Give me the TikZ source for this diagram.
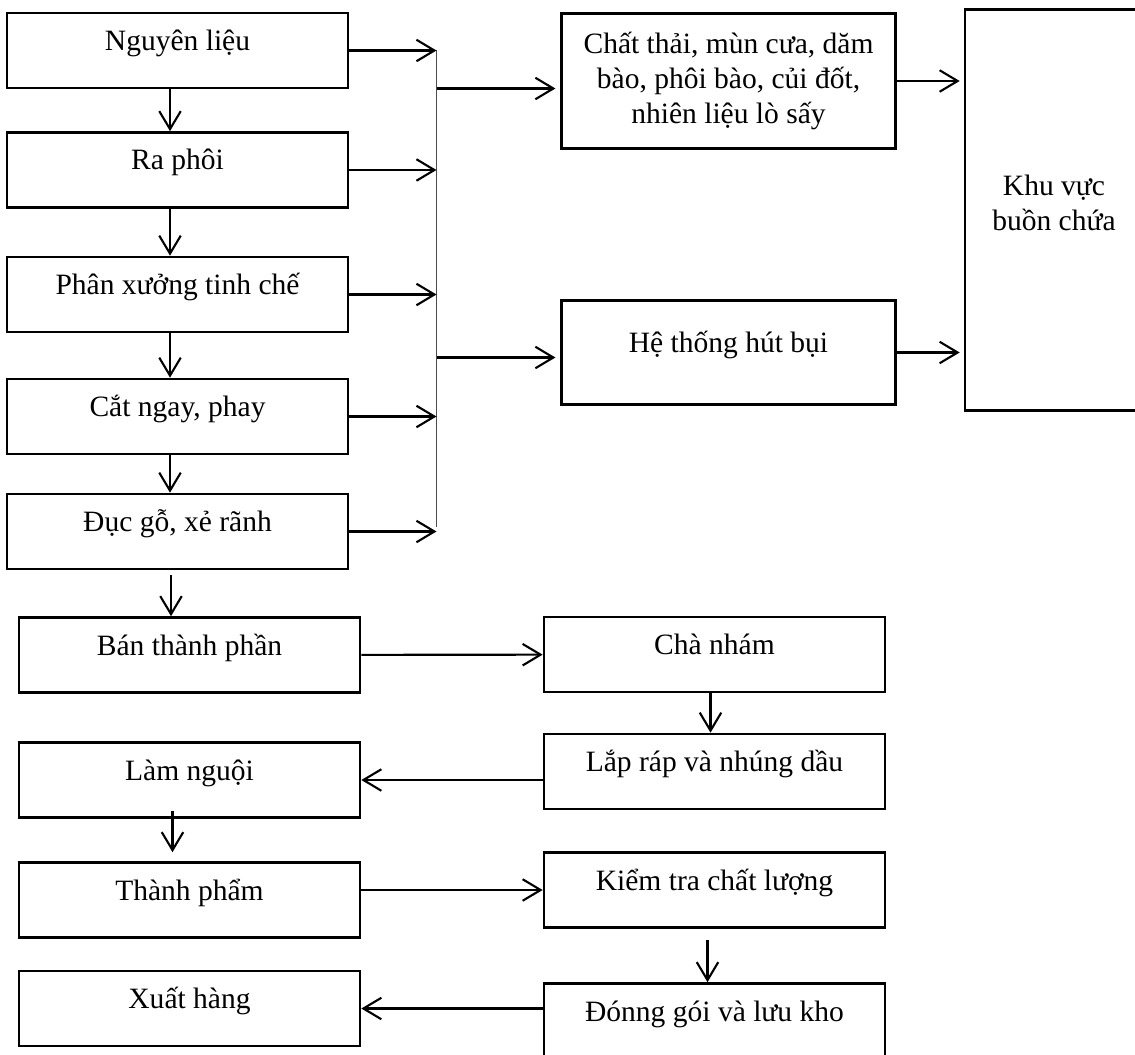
\documentclass[tikz,border=0pt]{standalone}
\usepackage{fontspec}
\setmainfont{Liberation Serif}
\usetikzlibrary{arrows.meta}
\tikzset{
  box/.style={draw, line width=1.5pt, align=center, inner sep=2pt,
              minimum width=6.82cm, minimum height=1.5cm},
  stepbox/.style={box, text height=0.8em, text depth=0.8em},
  arr/.style={-{Straight Barb[length=3.6mm,width=4.3mm]}, line width=1.2pt},
  trunk/.style={line width=0.9pt, draw=black!70},
}
\begin{document}
\begin{tikzpicture}[font=\fontsize{16.8}{19.9}\selectfont]
  \useasboundingbox (0,0) rectangle (22.7,-21.08);
  \clip (0,0) rectangle (22.7,-21.08);
  % left column
  \node[stepbox] (nl) at (3.55,-1.01) {Nguyên liệu};
  \node[stepbox] (rp) at (3.55,-3.40) {Ra phôi};
  \node[stepbox] (px) at (3.55,-5.89) {Phân xưởng tinh chế};
  \node[stepbox] (cn) at (3.55,-8.33) {Cắt ngay, phay};
  \node[stepbox] (dg) at (3.55,-10.63) {Đục gỗ, xẻ rãnh};
  \node[stepbox] (btp) at (3.79,-13.10) {Bán thành phần};
  \node[stepbox] (lng) at (3.79,-15.60) {Làm nguội};
  \node[stepbox] (tp) at (3.79,-18.00) {Thành phẩm};
  \node[stepbox] (xh) at (3.79,-20.17) {Xuất hàng};
  % right column
  \node[stepbox] (chn) at (14.29,-13.09) {Chà nhám};
  \node[stepbox] (lr) at (14.29,-15.43) {Lắp ráp và nhúng dầu};
  \node[stepbox] (kt) at (14.29,-17.80) {Kiểm tra chất lượng};
  \node[stepbox] (dgo) at (14.29,-20.42) {Đónng gói và lưu kho};
  % waste
  \node[box, minimum width=6.67cm, minimum height=2.71cm] (ct) at (14.57,-1.62) {Chất thải, mùn cưa, dăm\\bào, phôi bào, củi đốt,\\nhiên liệu lò sấy};
  \node[stepbox, minimum width=6.67cm, minimum height=2.07cm] (ht) at (14.57,-7.05) {Hệ thống hút bụi};
  \node[box, minimum width=3.56cm, minimum height=8.03cm, text depth=0.84em] (kv) at (21.08,-4.20) {Khu vực\\buồn chứa};
  % collector line
  \coordinate (tkb) at (8.73,-10.54);
  \coordinate (b1) at (8.73,-1.77);
  \coordinate (b2) at (8.73,-7.15);
  \draw[trunk] (nl.east -| tkb) -- (tkb);
  \foreach \n in {nl,rp,px,cn,dg}
    \draw[arr] (\n.east) -- (\n.east -| tkb);
  \draw[arr, shorten >=1mm] (b1) -- (b1 -| ct.west);
  \draw[arr, shorten >=1mm] (b2) -- (b2 -| ht.west);
  \draw[arr, shorten >=0.8mm] (ct.east) -- (ct.east -| kv.west);
  \draw[arr, shorten >=0.8mm] (ht.east) -- (ht.east -| kv.west);
  % downward flow
  \foreach \a/\b in {nl/rp,rp/px,px/cn,cn/dg}
    \draw[arr] ([xshift=-1.5mm]\a.south) -- ([xshift=-1.5mm]\a.south |- \b.north);
  \draw[arr] ([xshift=-1.3mm,yshift=-1mm]dg.south) -- ([xshift=-1.3mm]dg.south |- btp.north);
  \draw[arr] ([xshift=-3.4mm,yshift=1.5mm]lng.south) -- ([xshift=-3.4mm,yshift=1.8mm]lng.south |- tp.north);
  \draw[arr] ([xshift=-0.8mm]chn.south) -- ([xshift=-0.8mm]chn.south |- lr.north);
  \draw[arr] ([xshift=-1.4mm,yshift=-2.3mm]kt.south) -- ([xshift=-1.4mm]kt.south |- dgo.north);
  % across
  \draw[arr] (btp) -- (chn);
  \draw[arr] (lr.west |- lng.east) -- (lng.east);
  \draw[arr] (tp.east |- kt.west) -- (kt.west);
  \draw[arr] (dgo.west |- xh.east) -- (xh.east);
\end{tikzpicture}
\end{document}
